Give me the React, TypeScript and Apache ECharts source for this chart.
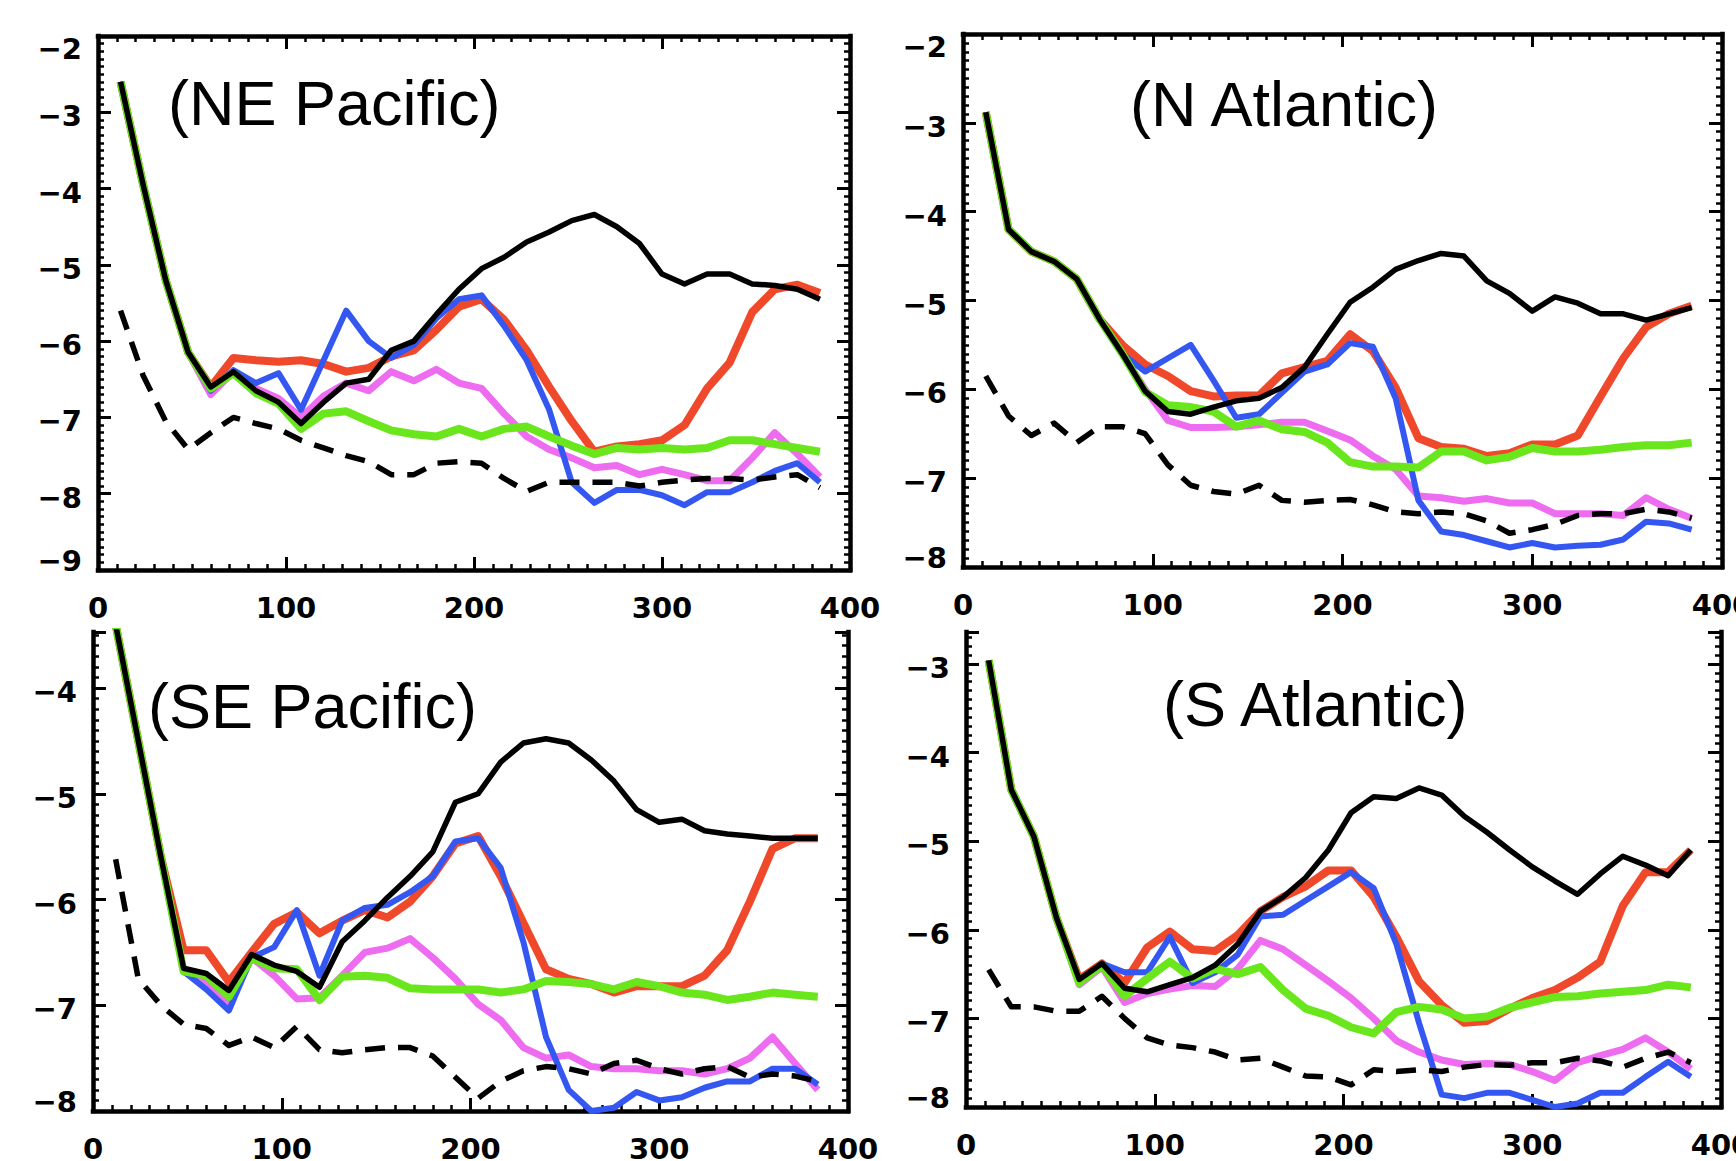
import React, { useEffect, useRef } from 'react';
import * as echarts from 'echarts';

// Depth (x) positions shared by every curve
const depths = [12, 24, 36, 48, 60, 72, 84, 96, 108, 120, 132, 144, 156, 168, 180, 192, 204, 216, 228, 240, 252, 264, 276, 288, 300, 312, 324, 336, 348, 360, 372, 384];

const xTickValues = [0, 100, 200, 300, 400];

// (NE Pacific)
const neRed = [-2.6, -3.95, -5.2, -6.15, -6.6, -6.22, -6.25, -6.27, -6.25, -6.3, -6.4, -6.35, -6.2, -6.12, -5.85, -5.55, -5.45, -5.72, -6.12, -6.6, -7.05, -7.45, -7.38, -7.35, -7.3, -7.1, -6.62, -6.28, -5.62, -5.32, -5.26, -5.37];
const neMagenta = [-2.6, -3.95, -5.2, -6.15, -6.7, -6.4, -6.62, -6.75, -7.0, -6.72, -6.55, -6.65, -6.4, -6.52, -6.37, -6.55, -6.62, -6.95, -7.25, -7.42, -7.53, -7.66, -7.63, -7.75, -7.68, -7.75, -7.83, -7.83, -7.53, -7.2, -7.48, -7.78];
const neBlue = [-2.6, -3.95, -5.2, -6.15, -6.65, -6.38, -6.55, -6.42, -6.9, -6.25, -5.6, -6.0, -6.22, -6.05, -5.7, -5.45, -5.4, -5.8, -6.25, -6.9, -7.85, -8.12, -7.95, -7.95, -8.02, -8.15, -7.98, -7.98, -7.85, -7.7, -7.6, -7.85];
const neGreen = [-2.6, -3.95, -5.2, -6.15, -6.62, -6.42, -6.68, -6.82, -7.15, -6.95, -6.92, -7.05, -7.17, -7.22, -7.25, -7.15, -7.25, -7.15, -7.12, -7.25, -7.37, -7.48, -7.4, -7.42, -7.4, -7.42, -7.4, -7.3, -7.3, -7.35, -7.4, -7.45];
const neDashed = [-5.6, -6.45, -7.05, -7.42, -7.2, -7.0, -7.08, -7.15, -7.3, -7.4, -7.5, -7.58, -7.75, -7.75, -7.6, -7.58, -7.6, -7.8, -7.97, -7.85, -7.85, -7.85, -7.85, -7.9, -7.85, -7.82, -7.8, -7.8, -7.82, -7.78, -7.75, -7.92];
const neBlack = [-2.6, -3.95, -5.2, -6.15, -6.6, -6.4, -6.65, -6.8, -7.08, -6.8, -6.55, -6.5, -6.12, -6.0, -5.65, -5.32, -5.05, -4.9, -4.7, -4.57, -4.42, -4.34, -4.5, -4.72, -5.12, -5.25, -5.12, -5.12, -5.25, -5.27, -5.32, -5.45];

// (N Atlantic)
const naRed = [-2.88, -4.2, -4.45, -4.56, -4.76, -5.21, -5.5, -5.72, -5.85, -6.02, -6.08, -6.07, -6.07, -5.82, -5.75, -5.68, -5.38, -5.57, -5.98, -6.55, -6.65, -6.67, -6.75, -6.72, -6.62, -6.62, -6.52, -6.08, -5.65, -5.3, -5.15, -5.06];
const naMagenta = [-2.88, -4.2, -4.45, -4.56, -4.76, -5.21, -5.6, -6.0, -6.35, -6.43, -6.43, -6.42, -6.4, -6.37, -6.37, -6.47, -6.57, -6.75, -6.9, -7.2, -7.22, -7.26, -7.23, -7.28, -7.28, -7.4, -7.4, -7.4, -7.42, -7.22, -7.35, -7.45];
const naBlue = [-2.88, -4.2, -4.45, -4.56, -4.76, -5.21, -5.6, -5.8, -5.65, -5.5, -5.9, -6.32, -6.28, -6.04, -5.8, -5.72, -5.48, -5.52, -6.1, -7.25, -7.6, -7.64, -7.71, -7.78, -7.73, -7.78, -7.76, -7.75, -7.69, -7.49, -7.51, -7.58];
const naGreen = [-2.88, -4.2, -4.45, -4.56, -4.76, -5.21, -5.6, -6.03, -6.18, -6.2, -6.25, -6.42, -6.35, -6.45, -6.48, -6.6, -6.82, -6.87, -6.87, -6.88, -6.7, -6.7, -6.8, -6.76, -6.66, -6.7, -6.7, -6.68, -6.65, -6.63, -6.63, -6.6];
const naDashed = [-5.85, -6.3, -6.52, -6.38, -6.6, -6.42, -6.42, -6.5, -6.85, -7.08, -7.15, -7.18, -7.08, -7.25, -7.27, -7.25, -7.24, -7.3, -7.38, -7.4, -7.38, -7.4, -7.48, -7.62, -7.58, -7.52, -7.42, -7.4, -7.4, -7.35, -7.38, -7.45];
const naBlack = [-2.88, -4.2, -4.45, -4.56, -4.76, -5.21, -5.6, -6.02, -6.25, -6.28, -6.2, -6.13, -6.1, -5.98, -5.75, -5.38, -5.02, -4.85, -4.65, -4.55, -4.47, -4.5, -4.78, -4.92, -5.12, -4.96, -5.03, -5.15, -5.15, -5.22, -5.15, -5.08];

// (SE Pacific)
const seRed = [-3.4, -4.5, -5.6, -6.48, -6.48, -6.78, -6.5, -6.23, -6.12, -6.32, -6.2, -6.1, -6.17, -6.02, -5.78, -5.47, -5.4, -5.78, -6.22, -6.66, -6.75, -6.8, -6.88, -6.82, -6.82, -6.82, -6.72, -6.48, -6.02, -5.52, -5.42, -5.42];
const seMagenta = [-3.4, -4.5, -5.6, -6.68, -6.8, -6.98, -6.55, -6.72, -6.94, -6.93, -6.72, -6.5, -6.46, -6.37, -6.55, -6.75, -6.99, -7.14, -7.4, -7.5, -7.47, -7.58, -7.6, -7.6, -7.62, -7.62, -7.65, -7.6, -7.5, -7.3, -7.55, -7.8];
const seBlue = [-3.4, -4.5, -5.6, -6.68, -6.85, -7.05, -6.55, -6.45, -6.1, -6.72, -6.2, -6.08, -6.05, -5.93, -5.78, -5.45, -5.42, -5.7, -6.4, -7.3, -7.8, -8.0, -7.97, -7.82, -7.9, -7.87, -7.78, -7.72, -7.72, -7.6, -7.6, -7.75];
const seGreen = [-3.4, -4.5, -5.6, -6.68, -6.72, -6.92, -6.55, -6.65, -6.66, -6.95, -6.73, -6.72, -6.74, -6.84, -6.85, -6.85, -6.85, -6.88, -6.85, -6.77, -6.78, -6.8, -6.85, -6.78, -6.82, -6.88, -6.9, -6.95, -6.92, -6.88, -6.9, -6.92];
const seDashed = [-5.62, -6.75, -7.0, -7.18, -7.22, -7.38, -7.3, -7.4, -7.2, -7.42, -7.45, -7.42, -7.4, -7.4, -7.48, -7.68, -7.88, -7.72, -7.62, -7.58, -7.6, -7.65, -7.55, -7.52, -7.6, -7.65, -7.6, -7.58, -7.68, -7.65, -7.67, -7.72];
const seBlack = [-3.4, -4.5, -5.6, -6.65, -6.7, -6.86, -6.52, -6.62, -6.68, -6.83, -6.4, -6.2, -5.98, -5.78, -5.55, -5.08, -5.0, -4.7, -4.52, -4.48, -4.52, -4.68, -4.88, -5.15, -5.27, -5.24, -5.35, -5.38, -5.4, -5.42, -5.42, -5.42];

// (S Atlantic)
const saRed = [-2.96, -4.42, -4.95, -5.87, -6.56, -6.38, -6.6, -6.2, -6.02, -6.22, -6.24, -6.06, -5.79, -5.63, -5.51, -5.33, -5.33, -5.63, -6.08, -6.58, -6.85, -7.05, -7.03, -6.89, -6.77, -6.68, -6.54, -6.36, -5.73, -5.35, -5.35, -5.1];
const saMagenta = [-2.96, -4.42, -4.95, -5.87, -6.62, -6.42, -6.82, -6.72, -6.67, -6.63, -6.64, -6.44, -6.12, -6.22, -6.4, -6.58, -6.77, -7.0, -7.25, -7.38, -7.47, -7.52, -7.51, -7.52, -7.6, -7.7, -7.5, -7.42, -7.35, -7.22, -7.38, -7.57];
const saBlue = [-2.96, -4.42, -4.95, -5.87, -6.6, -6.38, -6.48, -6.48, -6.08, -6.6, -6.48, -6.28, -5.85, -5.83, -5.67, -5.51, -5.35, -5.53, -6.16, -7.05, -7.86, -7.9, -7.84, -7.84, -7.92, -8.0, -7.96, -7.84, -7.84, -7.66, -7.49, -7.66];
const saGreen = [-2.96, -4.42, -4.95, -5.87, -6.6, -6.4, -6.75, -6.55, -6.36, -6.55, -6.44, -6.5, -6.42, -6.68, -6.89, -6.97, -7.1, -7.17, -6.93, -6.87, -6.9, -7.0, -6.98, -6.88, -6.82, -6.76, -6.75, -6.72, -6.7, -6.68, -6.62, -6.65];
const saDashed = [-6.45, -6.87, -6.87, -6.92, -6.92, -6.75, -7.0, -7.22, -7.3, -7.33, -7.38, -7.47, -7.45, -7.55, -7.65, -7.66, -7.75, -7.58, -7.6, -7.58, -7.6, -7.55, -7.52, -7.53, -7.5, -7.5, -7.45, -7.48, -7.55, -7.45, -7.38, -7.5];
const saBlack = [-2.96, -4.42, -4.95, -5.87, -6.56, -6.38, -6.66, -6.7, -6.62, -6.54, -6.4, -6.16, -5.79, -5.63, -5.41, -5.1, -4.68, -4.5, -4.52, -4.4, -4.48, -4.72, -4.9, -5.1, -5.29, -5.45, -5.6, -5.37, -5.17, -5.27, -5.39, -5.1];

const panelTitles = ['(NE Pacific)', '(N Atlantic)', '(SE Pacific)', '(S Atlantic)'];
const panelYRanges = [[-9, -2], [-8, -2], [-8, -3.47], [-8, -2.64]];
const panelData = [
  [neRed, neMagenta, neBlue, neGreen, neDashed, neBlack],
  [naRed, naMagenta, naBlue, naGreen, naDashed, naBlack],
  [seRed, seMagenta, seBlue, seGreen, seDashed, seBlack],
  [saRed, saMagenta, saBlue, saGreen, saDashed, saBlack],
];

// layout / style (kept apart from the data)
const boxes = [
  { left: 98, top: 36, width: 752, height: 534, topAxis: true, tx: 168, ty: 103 },
  { left: 963, top: 34, width: 759, height: 533, topAxis: true, tx: 1130, ty: 104 },
  { left: 93, top: 632, width: 755, height: 479, topAxis: false, tx: 148, ty: 706 },
  { left: 966, top: 632, width: 755, height: 475, topAxis: false, tx: 1163, ty: 704 },
];
const lineStyles = [
  { color: '#f0482a', width: 8 },
  { color: '#ee6cf0', width: 7 },
  { color: '#3457f2', width: 6 },
  { color: '#6ae61c', width: 8 },
  { color: '#000000', width: 5.5, type: [20, 13] },
  { color: '#000000', width: 5.5 },
];

const LABEL_FONT = 'DejaVu Sans';
const labelBase = { fontFamily: LABEL_FONT, fontWeight: 'bold', fontSize: 29, color: '#000' };

function buildOption() {
  const grid: any[] = [];
  const xAxis: any[] = [];
  const yAxis: any[] = [];
  const series: any[] = [];
  const graphic: any[] = [];

  boxes.forEach((b, p) => {
    const [yMin, yMax] = panelYRanges[p];
    const rect = { left: b.left, top: b.top, width: b.width, height: b.height, containLabel: false, outerBoundsMode: 'none' };
    const gMain = grid.length;
    grid.push({ ...rect });
    const gMinor = grid.length;
    grid.push({ ...rect });

    const axisLine = { show: true, onZero: false, lineStyle: { color: '#000', width: 4.5, cap: 'square' } };
    const majorTick = { show: true, inside: true, length: 13, lineStyle: { color: '#000', width: 3 } };
    const minorTickAsMajor = { show: true, inside: true, length: 6, lineStyle: { color: '#000', width: 2.5 } };

    // main x axes
    const xMainIdx = xAxis.length;
    xAxis.push({
      type: 'value', gridIndex: gMain, position: 'bottom', min: xTickValues[0], max: xTickValues[xTickValues.length - 1], interval: 100,
      axisLine, axisTick: majorTick, splitLine: { show: false },
      axisLabel: { ...labelBase, margin: 23, formatter: (v: number) => String(v) },
    });
    if (b.topAxis) {
      xAxis.push({
        type: 'value', gridIndex: gMain, position: 'top', min: 0, max: 400, interval: 100,
        axisLine, axisTick: majorTick, splitLine: { show: false }, axisLabel: { show: false },
      });
    }
    // minor x axes
    xAxis.push({
      type: 'value', gridIndex: gMinor, position: 'bottom', min: 0, max: 400, interval: 10,
      axisLine: { show: false, onZero: false }, axisTick: minorTickAsMajor, splitLine: { show: false }, axisLabel: { show: false },
    });
    if (b.topAxis) {
      xAxis.push({
        type: 'value', gridIndex: gMinor, position: 'top', min: 0, max: 400, interval: 10,
        axisLine: { show: false, onZero: false }, axisTick: minorTickAsMajor, splitLine: { show: false }, axisLabel: { show: false },
      });
    }

    const fmt = (v: number) => {
      if (Math.abs(v - Math.round(v)) > 1e-6) return '';
      const s = (v < 0 ? '\u2212' : '') + Math.abs(Math.round(v));
      if (Math.abs(v - yMax) < 1e-6) return `{t|${s}}`;
      if (Math.abs(v - yMin) < 1e-6) return `{b|${s}}`;
      return `{n|${s}}`;
    };

    const yMainIdx = yAxis.length;
    yAxis.push({
      type: 'value', gridIndex: gMain, position: 'left', min: yMin, max: yMax, interval: 1,
      axisLine, axisTick: majorTick, splitLine: { show: false },
      axisLabel: {
        ...labelBase, margin: 16, formatter: fmt,
        rich: {
          n: { ...labelBase, padding: [8, 0, 0, 0] },
          t: { ...labelBase, padding: [26, 0, 0, 0] },
          b: { ...labelBase, padding: [0, 0, 18, 0] },
        },
      },
    });
    yAxis.push({
      type: 'value', gridIndex: gMain, position: 'right', min: yMin, max: yMax, interval: 1,
      axisLine, axisTick: majorTick, splitLine: { show: false }, axisLabel: { show: false },
    });
    yAxis.push({
      type: 'value', gridIndex: gMinor, position: 'left', min: yMin, max: yMax, interval: 0.1,
      axisLine: { show: false, onZero: false }, axisTick: minorTickAsMajor, splitLine: { show: false }, axisLabel: { show: false },
    });
    yAxis.push({
      type: 'value', gridIndex: gMinor, position: 'right', min: yMin, max: yMax, interval: 0.1,
      axisLine: { show: false, onZero: false }, axisTick: minorTickAsMajor, splitLine: { show: false }, axisLabel: { show: false },
    });

    panelData[p].forEach((vals, k) => {
      const st = lineStyles[k];
      series.push({
        type: 'line',
        xAxisIndex: xMainIdx,
        yAxisIndex: yMainIdx,
        data: depths.map((d, i) => [d, vals[i]]),
        showSymbol: false,
        symbol: 'none',
        clip: true,
        z: 2 + k,
        lineStyle: { color: st.color, width: st.width, type: (st as any).type || 'solid', join: 'round' },
        emphasis: { disabled: true },
      });
    });

    graphic.push({
      type: 'text', x: b.tx, y: b.ty, z: 100,
      style: {
        text: panelTitles[p], fill: '#000', fontFamily: 'Liberation Sans', fontSize: 63,
        align: 'left', verticalAlign: 'middle',
      },
    });
  });

  return {
    animation: false,
    backgroundColor: '#ffffff',
    grid, xAxis, yAxis, series, graphic,
  };
}

export default function App() {
  const ref = useRef<HTMLDivElement>(null);
  useEffect(() => {
    if (!ref.current) return;
    const chart = echarts.init(ref.current, null, { renderer: 'svg', width: 1736, height: 1161 });
    chart.setOption(buildOption() as any);
    return () => chart.dispose();
  }, []);
  return (
    <div
      ref={ref}
      style={{ position: 'absolute', left: 0, top: 0, width: 1736, height: 1161, background: '#fff' }}
    />
  );
}
